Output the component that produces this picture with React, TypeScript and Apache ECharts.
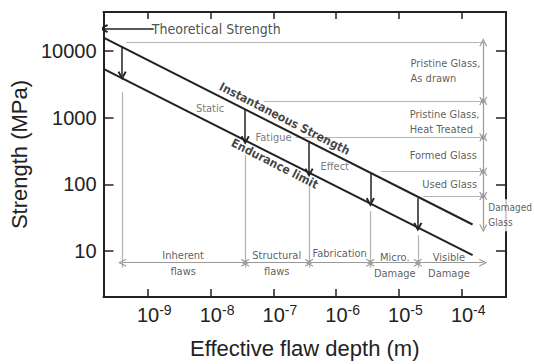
import React, { useEffect, useRef } from "react";
import * as echarts from "echarts";

// ---- axes (real units) ----
const depthRange = [1.972e-10, 5.07e-4];
const strengthRange = [2.04, 38700];
const depthTickExponents = [-9, -8, -7, -6, -5, -4];
const strengthTicks = [10, 100, 1000, 10000];

// ---- main curves ----
const instantaneousDepth = [1.972e-10, 1.49e-4];
const instantaneousStrength = [16000, 25];
const enduranceDepth = [1.972e-10, 1.49e-4];
const enduranceStrength = [5400, 8.7];
const curveNames = ["Instantaneous Strength", "Endurance limit"];
const curveLabelDepth = [1.51e-7, 1.05e-7];
const curveLabelStrength = [966, 204];

// ---- theoretical strength ----
const theoreticalStrength = 21800;
const theoreticalArrowFrom = 1.24e-9;
const theoreticalLabel = "Theoretical Strength";
const theoreticalLabelDepth = 1.16e-9;

// ---- flaw regions ----
const regionBoundaries = [3.9e-10, 3.56e-8, 3.7e-7, 3.5e-6, 2.0e-5, 2.2e-4];
const boundaryLineTop = [2410, 276, 107, 40, 17.2];
const boundaryLineBottom = 5.6;
const regionArrowStrength = 6.67;
const regionNames = ["Inherent\nflaws", "Structural\nflaws", "Fabrication", "Micro.\nDamage", "Visible\nDamage"];
const regionLabelDepth = [3.66e-9, 1.13e-7, 1.14e-6, 8.59e-6, 6.25e-5];
const regionLabelStrength = [6.55, 6.55, 9.04, 6.1, 6.1];

// ---- degradation (static fatigue) arrows ----
const degradationDepth = [3.9e-10, 3.56e-8, 3.7e-7, 3.5e-6, 2.0e-5];
const degradationFrom = [11850, 1312, 428, 145, 62];
const degradationTo = [4285, 460, 150, 54, 23];
const processNames = ["Static", "Fatigue", "Effect"];
const processLabelDepth = [0.98e-8, 1.01e-7, 9.5e-7];
const processLabelStrength = [1400, 508, 184];

// ---- glass classes ----
const glassBoundaries = [13550, 1778, 508, 155, 66.7, 21.8];
const glassLineStartDepth = [4.52e-10, 7.08e-8, 2.24e-7, 5.19e-6, 2.45e-5];
const glassScaleDepth = 2.2e-4;
const glassNames = ["Pristine Glass,\nAs drawn", "Pristine Glass,\nHeat Treated", "Formed Glass", "Used Glass", "Damaged\nGlass"];
const glassLabelDepth = [1.53e-5, 1.48e-5, 1.48e-5, 2.36e-5, 2.56e-4];
const glassLabelStrength = [5000, 873, 276, 100, 34.4];

const L = (v: number) => Math.log10(v);
const AXIS_FONT = "'Liberation Sans', Arial, sans-serif";
const NOTE_FONT = "'DejaVu Sans Condensed', 'DejaVu Sans', sans-serif";
const CHEVRON = "path://M5,0 L10,10 L8.4,10 L5,3.2 L1.6,10 L0,10 Z";
const CHEVRON_BOLD = "path://M5,0 L10,9 L8,10 L5,4 L2,10 L0,9 Z";

function buildOption() {
  const xMin = L(depthRange[0]);
  const xMax = L(depthRange[1]);
  const yMin = L(strengthRange[0]);
  const yMax = L(strengthRange[1]);
  const xTicks = depthTickExponents;
  const yTicks = strengthTicks.map(L);

  const axisLine = { lineStyle: { color: "#222", width: 2 } };

  const blackArrows = degradationDepth.map((d, i) => ({
    coords: [[L(d), L(degradationFrom[i])], [L(d), L(degradationTo[i])]],
  }));
  blackArrows.push({
    coords: [[L(theoreticalArrowFrom), L(theoreticalStrength)], [xMin, L(theoreticalStrength)]],
  });

  const grayLines: any[] = [];
  glassLineStartDepth.forEach((d, i) => {
    grayLines.push({ coords: [[L(d), L(glassBoundaries[i])], [L(glassScaleDepth), L(glassBoundaries[i])]] });
  });
  boundaryLineTop.forEach((s, i) => {
    grayLines.push({ coords: [[L(regionBoundaries[i]), L(s)], [L(regionBoundaries[i]), L(boundaryLineBottom)]] });
  });

  const grayArrows: any[] = [];
  for (let i = 0; i < regionBoundaries.length - 1; i++) {
    grayArrows.push({
      coords: [[L(regionBoundaries[i]), L(regionArrowStrength)], [L(regionBoundaries[i + 1]), L(regionArrowStrength)]],
    });
  }
  for (let i = 0; i < glassBoundaries.length - 1; i++) {
    grayArrows.push({
      coords: [[L(glassScaleDepth), L(glassBoundaries[i])], [L(glassScaleDepth), L(glassBoundaries[i + 1])]],
    });
  }

  const noteStyle = { fontFamily: NOTE_FONT, fontSize: 11, color: "#333" };
  const labels: any[] = [];
  labels.push({
    value: [L(theoreticalLabelDepth), L(theoreticalStrength)],
    label: { position: "right", distance: 0, formatter: theoreticalLabel, fontFamily: NOTE_FONT, fontSize: 14, color: "#222" },
  });
  glassNames.forEach((n, i) => {
    const last = i === glassNames.length - 1;
    labels.push({
      value: [L(glassLabelDepth[i]), L(glassLabelStrength[i])],
      label: {
        position: "right", distance: 0, formatter: n, align: "left", lineHeight: 15,
        ...noteStyle, fontSize: last ? 10 : 11,
        backgroundColor: last ? "#fff" : "transparent",
        padding: last ? [1, 1, 1, 1] : 0,
      },
    });
  });
  processNames.forEach((n, i) => {
    labels.push({
      value: [L(processLabelDepth[i]), L(processLabelStrength[i])],
      label: { position: "inside", formatter: n, ...noteStyle, color: "#555" },
    });
  });
  regionNames.forEach((n, i) => {
    labels.push({
      value: [L(regionLabelDepth[i]), L(regionLabelStrength[i])],
      label: { position: "inside", formatter: n, align: "center", lineHeight: 16, ...noteStyle },
    });
  });
  curveNames.forEach((n, i) => {
    labels.push({
      value: [L(curveLabelDepth[i]), L(curveLabelStrength[i])],
      label: {
        position: "inside", formatter: n, rotate: -27, fontFamily: NOTE_FONT,
        fontSize: 12, fontWeight: "bold", color: "#111",
      },
    });
  });

  return {
    animation: false,
    backgroundColor: "#fff",
    grid: { left: 97, right: 28, top: 12, bottom: 61 },
    xAxis: [
      {
        type: "value", min: xMin, max: xMax, position: "bottom",
        axisLine, splitLine: { show: false },
        axisTick: { inside: true, length: 8, customValues: xTicks, lineStyle: { color: "#222", width: 1.5 } },
        axisLabel: {
          customValues: xTicks, margin: 6,
          formatter: (v: number) => `{b|10}{s|${Math.round(v)}}`,
          rich: {
            b: { fontFamily: AXIS_FONT, fontSize: 20, color: "#222", lineHeight: 24, padding: [0, 0, 0, 13] },
            s: { fontFamily: AXIS_FONT, fontSize: 14, color: "#222", lineHeight: 13, verticalAlign: "top" },
          },
        },
        name: "Effective flaw depth (m)", nameLocation: "middle", nameGap: 40,
        nameTextStyle: { fontFamily: AXIS_FONT, fontSize: 22, color: "#222" },
      },
      {
        type: "value", min: xMin, max: xMax, position: "top",
        axisLine, splitLine: { show: false },
        axisTick: { inside: true, length: 7, customValues: xTicks, lineStyle: { color: "#222", width: 1.5 } },
        axisLabel: { show: false },
      },
    ],
    yAxis: [
      {
        type: "value", min: yMin, max: yMax, position: "left",
        axisLine, splitLine: { show: false },
        axisTick: { inside: true, length: 10, customValues: yTicks, lineStyle: { color: "#222", width: 1.5 } },
        axisLabel: {
          customValues: yTicks, margin: 7,
          formatter: (v: number) => String(Math.round(Math.pow(10, v))),
          fontFamily: AXIS_FONT, fontSize: 20, color: "#222",
        },
        name: "Strength (MPa)", nameLocation: "middle", nameGap: 64,
        nameTextStyle: { fontFamily: AXIS_FONT, fontSize: 22, color: "#222" },
      },
      {
        type: "value", min: yMin, max: yMax, position: "right",
        axisLine, splitLine: { show: false },
        axisTick: { inside: true, length: 10, customValues: yTicks, lineStyle: { color: "#222", width: 1.5 } },
        axisLabel: { show: false },
      },
    ],
    series: [
      {
        type: "line", silent: true, symbol: "none",
        data: instantaneousDepth.map((d, i) => [L(d), L(instantaneousStrength[i])]),
        lineStyle: { color: "#222", width: 2 }, z: 5,
      },
      {
        type: "line", silent: true, symbol: "none",
        data: enduranceDepth.map((d, i) => [L(d), L(enduranceStrength[i])]),
        lineStyle: { color: "#222", width: 2 }, z: 5,
      },
      {
        type: "lines", coordinateSystem: "cartesian2d", silent: true,
        data: grayLines, symbol: "none",
        lineStyle: { color: "#b4b4b4", width: 1.2, opacity: 1 }, z: 2,
      },
      {
        type: "lines", coordinateSystem: "cartesian2d", silent: true,
        data: grayArrows, symbol: [CHEVRON, CHEVRON], symbolSize: [8, 8], symbolOffset: [0, 4],
        lineStyle: { color: "#999", width: 1.2, opacity: 1 }, z: 3,
      },
      {
        type: "lines", coordinateSystem: "cartesian2d", silent: true,
        data: blackArrows, symbol: ["none", CHEVRON_BOLD], symbolSize: [9, 9], symbolOffset: [0, 4],
        lineStyle: { color: "#222", width: 1.5, opacity: 1 }, z: 4,
      },
      {
        type: "scatter", silent: true, symbolSize: 0, z: 10,
        label: { show: true },
        data: labels,
      },
    ],
  };
}

export default function App() {
  const ref = useRef<HTMLDivElement>(null);
  useEffect(() => {
    const chart = echarts.init(ref.current!, null, { renderer: "svg" });
    chart.setOption(buildOption() as any);
    return () => chart.dispose();
  }, []);
  return (
    <div
      ref={ref}
      style={{ position: "absolute", left: 0, top: 0, width: 534, height: 364, background: "#fff" }}
    />
  );
}
